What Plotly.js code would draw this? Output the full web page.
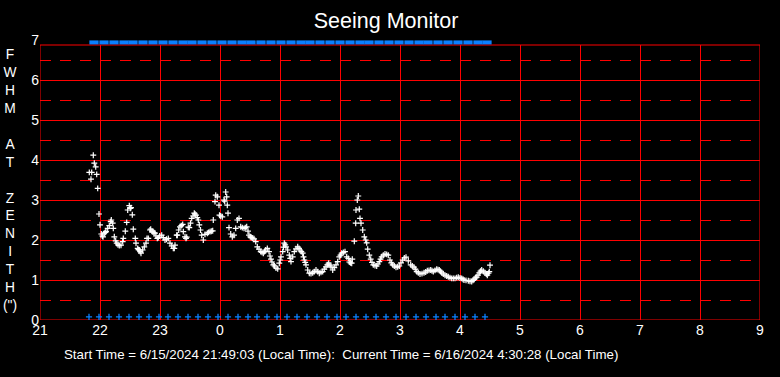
<!DOCTYPE html>
<html><head><meta charset="utf-8">
<script src="https://cdn.plot.ly/plotly-3.0.1.min.js"></script>
<style>html,body{margin:0;padding:0;background:#000;}#chart{width:780px;height:377px;}</style>
</head><body><div id="chart"></div>
<script>
// x values are minutes after 21:00 local time
const hourTickMinutes = [0,60,120,180,240,300,360,420,480,540,600,660,720];
const hourTickLabels = ['21','22','23','0','1','2','3','4','5','6','7','8','9'];
const yTickValues = [0,1,2,3,4,5,6,7];
const yTitleLetters = ['F','W','H','M','','A','T','','Z','E','N','I','T','H','(")'];
const titleText = 'Seeing Monitor';
const footerText = 'Start Time = 6/15/2024 21:49:03 (Local Time):  Current Time = 6/16/2024 4:30:28 (Local Time)';
const plotTopValue = 6.875;

// [minutes after 21:00, FWHM at zenith (arcsec)]
const seeingSamples = [
[49.3,3.69],[51.0,3.52],[51.7,3.69],[53.3,4.12],[54.3,3.92],[55.7,3.83],[56.7,3.64],[57.7,3.29],[59.0,2.65],[60.0,2.38],
[61.3,2.15],[62.3,2.10],[63.0,2.08],[64.3,2.17],[65.3,2.19],[66.0,2.21],[67.7,2.29],[69.3,2.36],[70.7,2.46],[71.3,2.50],
[72.7,2.42],[73.3,2.29],[74.3,2.08],[75.7,1.98],[76.7,1.92],[78.0,1.88],[79.3,1.86],[81.0,1.87],[82.7,1.96],[83.3,2.04],
[85.3,2.22],[86.7,2.44],[87.7,2.75],[89.3,2.86],[90.3,2.79],[91.0,2.81],[92.3,2.63],[93.3,2.27],[95.3,2.04],[96.0,1.92],
[97.7,1.79],[98.5,1.76],[99.3,1.75],[100.2,1.71],[101.0,1.67],[102.7,1.75],[104.3,1.83],[106.0,1.92],[107.0,2.04],[108.3,2.04],
[110.0,2.25],[110.7,2.27],[112.0,2.22],[113.0,2.20],[114.0,2.18],[115.0,2.17],[116.0,2.10],[117.3,2.04],[118.3,2.06],[119.7,2.10],
[121.7,2.12],[123.3,2.06],[125.0,2.00],[126.5,2.02],[128.3,2.04],[130.0,1.92],[131.7,1.85],[133.3,1.79],[134.3,1.79],[135.0,1.87],
[136.7,2.12],[137.3,2.12],[138.7,2.25],[140.0,2.33],[141.3,2.36],[142.7,2.39],[143.3,2.21],[145.0,2.08],[146.0,2.04],[146.7,2.07],
[148.3,2.32],[149.3,2.31],[150.5,2.42],[151.7,2.54],[153.0,2.60],[154.3,2.67],[155.0,2.65],[156.0,2.62],[157.3,2.56],[158.3,2.50],
[159.3,2.38],[160.5,2.25],[161.7,2.12],[163.3,2.00],[165.0,2.14],[167.3,2.17],[168.5,2.19],[170.0,2.21],[171.3,2.22],[172.7,2.23],
[173.3,2.50],[175.0,2.96],[175.7,3.12],[177.3,3.08],[179.0,2.87],[179.5,2.62],[180.7,2.60],[182.3,2.58],[184.0,3.00],[184.7,2.97],
[185.7,3.20],[186.7,3.08],[187.3,2.87],[188.0,2.67],[189.0,2.31],[190.7,2.15],[192.3,2.08],[194.0,2.12],[195.7,2.29],[197.3,2.50],
[199.0,2.54],[200.7,2.33],[202.3,2.31],[204.0,2.29],[205.3,2.31],[206.7,2.33],[208.0,2.22],[209.0,2.12],[210.3,2.08],[211.3,2.06],
[212.7,2.05],[214.0,2.03],[215.7,1.96],[217.3,1.83],[219.0,1.77],[220.7,1.71],[222.0,1.69],[223.3,1.67],[224.5,1.71],[225.7,1.75],
[227.3,1.79],[229.0,1.71],[230.0,1.60],[231.0,1.52],[232.0,1.45],[233.3,1.38],[234.5,1.35],[236.0,1.30],[237.7,1.28],[239.3,1.42],
[240.2,1.50],[241.0,1.58],[242.7,1.71],[243.5,1.82],[244.3,1.92],[245.2,1.88],[246.0,1.83],[247.7,1.75],[249.3,1.62],[250.2,1.54],
[251.0,1.46],[252.7,1.58],[254.3,1.71],[256.0,1.78],[257.7,1.83],[259.0,1.79],[260.0,1.75],[261.3,1.71],[262.7,1.67],[263.5,1.58],
[264.3,1.50],[265.2,1.44],[266.0,1.38],[267.7,1.25],[269.3,1.17],[271.0,1.16],[272.7,1.18],[274.3,1.21],[276.0,1.25],[277.7,1.21],
[279.3,1.17],[281.0,1.19],[282.7,1.21],[284.3,1.27],[286.0,1.33],[287.3,1.38],[288.7,1.42],[290.0,1.37],[291.0,1.33],[292.7,1.25],
[294.3,1.31],[296.0,1.38],[297.7,1.46],[299.3,1.58],[300.5,1.62],[301.7,1.67],[303.3,1.69],[305.0,1.71],[306.7,1.58],[308.3,1.54],
[309.3,1.45],[310.5,1.43],[311.7,1.42],[312.3,1.52],[314.3,1.97],[315.7,2.42],[316.0,2.75],[317.3,3.00],[318.3,3.10],[319.3,2.77],
[320.0,2.54],[321.0,2.42],[322.7,2.25],[324.3,2.08],[325.7,2.00],[326.7,1.93],[327.7,1.77],[329.3,1.62],[330.7,1.52],[332.0,1.44],
[333.3,1.38],[335.0,1.36],[336.7,1.35],[338.0,1.40],[339.3,1.46],[340.5,1.52],[341.7,1.58],[343.3,1.62],[345.0,1.65],[346.7,1.64],
[348.3,1.62],[350.0,1.50],[351.3,1.43],[352.7,1.38],[354.3,1.35],[356.0,1.32],[357.7,1.33],[359.3,1.35],[361.0,1.43],[362.7,1.50],
[364.3,1.55],[366.0,1.57],[368.3,1.48],[370.7,1.38],[372.3,1.35],[374.0,1.32],[375.3,1.27],[376.7,1.21],[378.3,1.18],[380.0,1.15],
[382.0,1.16],[384.0,1.18],[385.7,1.20],[387.3,1.23],[389.0,1.24],[390.7,1.25],[392.0,1.23],[393.3,1.21],[395.0,1.24],[396.7,1.27],
[398.0,1.26],[399.3,1.25],[400.5,1.22],[401.7,1.18],[403.3,1.15],[405.0,1.12],[406.7,1.10],[408.3,1.08],[410.0,1.06],[411.7,1.04],
[413.3,1.04],[415.0,1.04],[416.7,1.06],[418.3,1.07],[420.0,1.05],[421.7,1.04],[423.0,1.02],[424.0,1.00],[426.0,0.99],[428.3,0.98],
[430.0,0.97],[431.7,0.96],[433.0,0.99],[434.0,1.02],[435.3,1.05],[436.7,1.07],[438.0,1.12],[439.3,1.18],[440.5,1.22],[441.7,1.25],
[443.3,1.22],[445.0,1.18],[446.3,1.15],[447.3,1.12],[448.5,1.17],[449.3,1.21],[450.0,1.37]
];

// blue status markers along the bottom (minutes after 21:00) and their level
const bottomMarkerMinutes = [49,59,69,79,89,99,109,119,128,138,148,158,168,178,188,198,208,217,227,237,247,257,267,277,287,297,306,316,326,336,346,356,366,376,386,396,405,415,425,435,445];
const bottomMarkerLevel = 0.08;
// blue status band along the top
const topMarkerMinutes = [54,64,74,84,93,103,113,123,133,143,152,162,172,182,192,202,211,221,231,241,251,261,270,280,290,300,310,320,329,339,349,359,369,379,388,398,408,418,428,438,447];
const topMarkerLevel = 6.94;

const seeingX = seeingSamples.map(p => p[0]);
const seeingY = seeingSamples.map(p => p[1]);

const RED = '#ff0000';
const BLUE = '#0a80ff';
const FONT = 'Liberation Sans, Arial, sans-serif';

const traces = [
  {
    x: seeingX, y: seeingY, type: 'scatter', mode: 'markers', cliponaxis: false,
    marker: {symbol: 'cross-thin-open', size: 4.2, color: '#ffffff', line: {color: '#ffffff', width: 1.2}},
    hoverinfo: 'skip'
  },
  {
    x: bottomMarkerMinutes, y: bottomMarkerMinutes.map(() => bottomMarkerLevel), type: 'scatter', mode: 'markers', cliponaxis: false,
    marker: {symbol: 'cross-thin-open', size: 4.4, color: BLUE, line: {color: BLUE, width: 1.3}},
    hoverinfo: 'skip'
  },
  {
    x: topMarkerMinutes, y: topMarkerMinutes.map(() => topMarkerLevel), type: 'scatter', mode: 'markers', cliponaxis: false,
    marker: {symbol: 'line-ew-open', size: 6.6, color: BLUE, line: {color: BLUE, width: 4}},
    hoverinfo: 'skip'
  }
];

const shapes = [
  // mask the strip above the plot frame (grid lines stop at the frame)
  {type: 'rect', xref: 'x', yref: 'y', x0: -2, x1: 722, y0: plotTopValue, y1: 7.2, fillcolor: '#000000', line: {width: 0}, layer: 'between'},
  // red frame
  {type: 'rect', xref: 'x', yref: 'y', x0: 0, x1: 720, y0: 0, y1: plotTopValue, line: {color: RED, width: 1}, fillcolor: 'rgba(0,0,0,0)', layer: 'between'}
];

const annotations = [
  {text: yTitleLetters.join('<br>'), xref: 'paper', yref: 'paper', x: -0.0417, y: 0.497, xanchor: 'center', yanchor: 'middle', showarrow: false,
   align: 'center', font: {family: FONT, size: 13.8, color: '#ffffff'}},
  {text: footerText, xref: 'paper', yref: 'paper', x: 0.0306, y: -0.124, xanchor: 'left', yanchor: 'middle', showarrow: false,
   font: {family: FONT, size: 13.3, color: '#ffffff'}}
];

const layout = {
  width: 780, height: 377,
  margin: {l: 40, r: 20, t: 38, b: 57, pad: 0},
  paper_bgcolor: '#000000', plot_bgcolor: '#000000',
  showlegend: false,
  font: {family: FONT, color: '#ffffff'},
  title: {text: titleText, x: 0.495, xref: 'container', xanchor: 'center', y: 0.945, yref: 'container', yanchor: 'middle',
          font: {family: FONT, size: 21.5, color: '#ffffff'}},
  xaxis: {
    range: [0, 720], tickmode: 'array', tickvals: hourTickMinutes, ticktext: hourTickLabels,
    showgrid: true, gridcolor: RED, gridwidth: 1, zeroline: false, showline: false,
    ticks: '', tickfont: {family: FONT, size: 14, color: '#ffffff'}, fixedrange: true
  },
  yaxis: {
    range: [0, 7.05], tickmode: 'array', tickvals: yTickValues,
    showgrid: true, gridcolor: RED, gridwidth: 1, zeroline: false, showline: false,
    ticks: '', tickfont: {family: FONT, size: 14, color: '#ffffff'}, fixedrange: true,
    minor: {tick0: 0.5, dtick: 1, showgrid: true, gridcolor: RED, gridwidth: 1, griddash: '11px,9px', ticks: ''}
  },
  shapes: shapes,
  annotations: annotations
};

Plotly.newPlot('chart', traces, layout, {displayModeBar: false, staticPlot: true});
</script>
</body></html>
